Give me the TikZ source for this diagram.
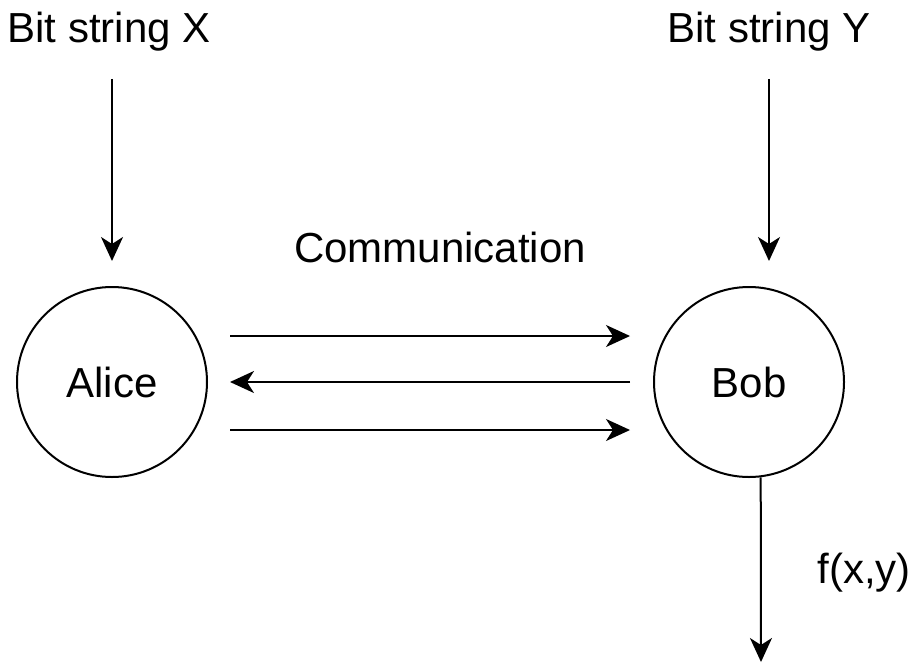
\documentclass[tikz,border=0pt]{standalone}
\usepackage{fontspec}
\setmainfont{Liberation Sans}
\usetikzlibrary{arrows.meta, calc}
\newcommand{\diagfont}{\fontsize{42}{50}\selectfont}

\begin{document}
\begin{tikzpicture}[x=1pt, y=-1pt,
    party/.style={draw, circle, line width=2pt, minimum size=190pt, font=\diagfont},
    caption/.style={anchor=base, inner sep=0pt, font=\diagfont},
    arrow/.style={-{Stealth[length=24pt, width=22pt, inset=7pt]}, line width=2pt},
]
\useasboundingbox (0,0) rectangle (917,664);
% Parties
\node[party] (alice) at (112,382) {Alice};
\node[party] (bob) at (749,382) {Bob};
% Inputs
\node[caption] (bitX) at (109,42) {Bit string X};
\node[caption] (bitY) at (769,42) {Bit string Y};
\draw[arrow, shorten <=28pt, shorten >=25pt] (bitX.south -| alice) -- (alice.north);
\draw[arrow, shorten <=28pt, shorten >=25pt] (bitY.south) -- (bitY.south |- bob.north);
% Communication
\node[caption] (comm) at (440,262) {Communication};
\draw[arrow, shorten <=22pt, shorten >=23pt] ([yshift=46pt]alice.east) -- ([yshift=46pt]bob.west);
\draw[arrow, shorten <=23pt, shorten >=22pt] (bob.west) -- (alice.east);
\draw[arrow, shorten <=22pt, shorten >=23pt] ([yshift=-48pt]alice.east) -- ([yshift=-48pt]bob.west);
% Output
\coordinate (out) at (761,662);
\draw[arrow] (bob.-83) -- (out);
\node[caption] (fxy) at (864,583) {f(x,y)};
\end{tikzpicture}
\end{document}
